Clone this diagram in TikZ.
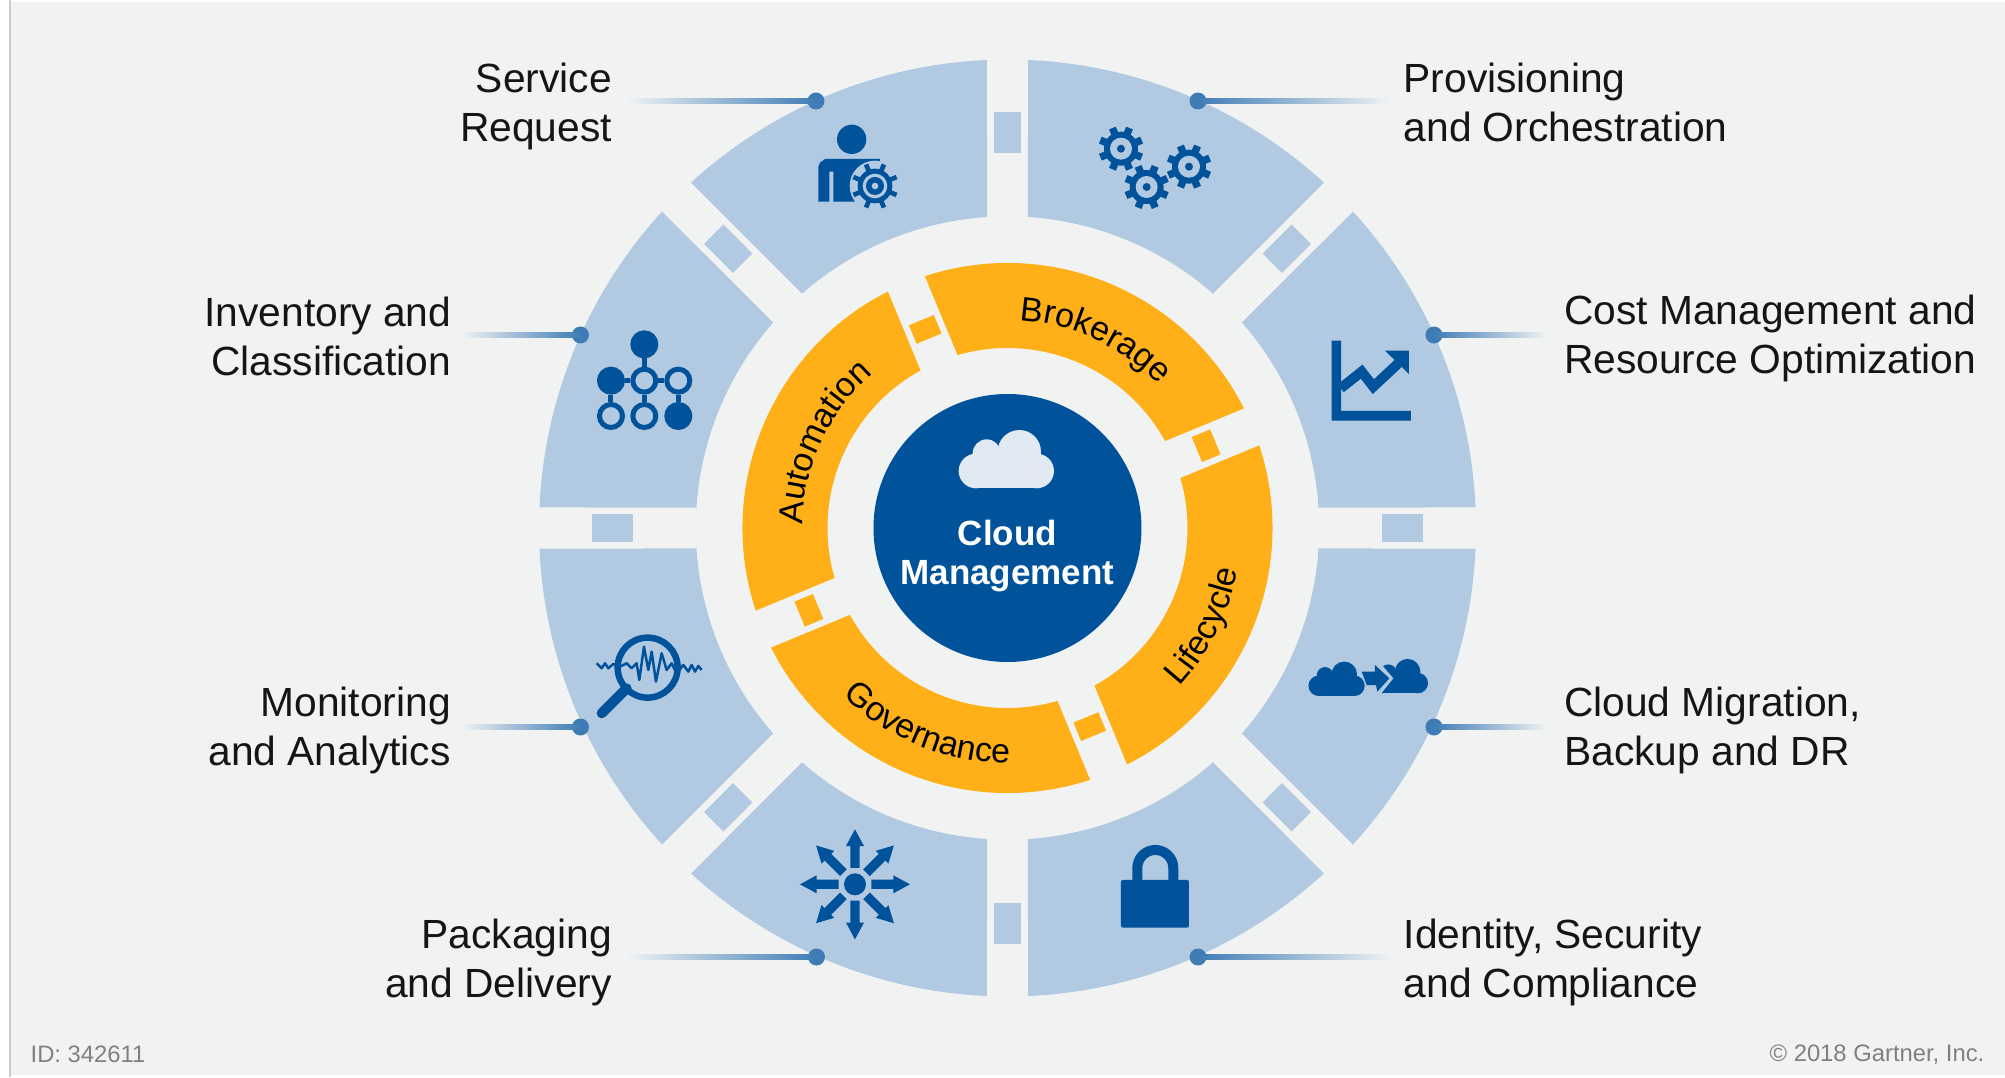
\documentclass[tikz,border=0pt]{standalone}
\usepackage{fontspec}
\setmainfont{Liberation Sans}
\usetikzlibrary{decorations.text}

\definecolor{pagegrey}{HTML}{F1F3F3}
\definecolor{edgegrey}{HTML}{C9CBCB}
\definecolor{paleblue}{HTML}{B1CAE2}
\definecolor{iconblue}{HTML}{00529B}
\definecolor{dotblue}{HTML}{3F7CB5}
\definecolor{ringgold}{HTML}{FFAF17}
\definecolor{cloudwhite}{HTML}{E1EAF3}
\definecolor{inkblack}{HTML}{151515}
\definecolor{notegrey}{HTML}{808080}

\newcommand{\capfont}{\fontsize{40.75}{49}\selectfont}
\newcommand{\ringfont}{\fontsize{34}{34}\selectfont}
\newcommand{\notefont}{\fontsize{23.8}{28}\selectfont}

\tikzset{
  crop/.style 2 args={shift={(#1-1007.5,528-#2)},x=.3333pt,y=-.3333pt},
  segment/.style={fill=paleblue},
  ringseg/.style={fill=ringgold},
  gapbox/.style={fill=paleblue,minimum width=27.5pt,minimum height=41pt,inner sep=0pt},
  ringbox/.style={fill=ringgold,minimum width=27pt,minimum height=20pt,inner sep=0pt},
  dot/.style={circle,fill=dotblue,minimum size=17pt,inner sep=0pt},
  leftfade/.style={left color=pagegrey,right color=dotblue},
  rightfade/.style={left color=dotblue,right color=pagegrey},
  leftcap/.style={font=\capfont,text=inkblack,align=right,anchor=east,inner sep=0pt},
  rightcap/.style={font=\capfont,text=inkblack,align=left,anchor=west,inner sep=0pt},
  netfull/.style={circle,draw=iconblue,fill=iconblue,line width=5pt,minimum size=23pt,inner sep=0pt},
  netopen/.style={circle,draw=iconblue,fill=paleblue,line width=5pt,minimum size=23pt,inner sep=0pt},
  netlink/.style={draw=iconblue,line width=5pt},
  gearicon/.pic={
    \foreach \a in {22.5,67.5,...,337.5} {\fill[iconblue,rotate=\a] (-11,45) rectangle (11,67);}
    \fill[iconblue] (0,0) circle (51);
    \fill[paleblue] (0,0) circle (33);
    \fill[iconblue] (0,0) circle (12);
  },
  cloudshape/.pic={
    \path[pic actions] (-93,-52) circle (52);
    \path[pic actions] (-61,-105) circle (42);
    \path[pic actions] (37,-110) circle (65);
    \path[pic actions] (89,-52) circle (52);
    \path[pic actions] (-93,-60) rectangle (89,0);
    \path[pic actions] (-61,-105) rectangle (37,0);
  },
  fanarrow/.style={fill=iconblue},
}

\begin{document}
\begin{tikzpicture}[x=1pt,y=1pt]

\useasboundingbox (-1007.5,-549) rectangle (997.5,528);
\fill[white] (-1007.5,-549) rectangle (997.5,528);
\fill[pagegrey] (-996.5,-547) rectangle (997.5,526);
\fill[edgegrey] (-998.5,-549) rectangle (-996.5,528);

% outer ring
\fill[segment] (2.51:468.5) arc (2.51:42.49:468.5) -- (41.23:311.7) arc (41.23:3.77:311.7) -- cycle;
\fill[segment] (47.51:468.5) arc (47.51:87.49:468.5) -- (86.23:311.7) arc (86.23:48.77:311.7) -- cycle;
\fill[segment] (92.51:468.5) arc (92.51:132.49:468.5) -- (131.23:311.7) arc (131.23:93.77:311.7) -- cycle;
\fill[segment] (137.51:468.5) arc (137.51:177.49:468.5) -- (176.23:311.7) arc (176.23:138.77:311.7) -- cycle;
\fill[segment] (182.51:468.5) arc (182.51:222.49:468.5) -- (221.23:311.7) arc (221.23:183.77:311.7) -- cycle;
\fill[segment] (227.51:468.5) arc (227.51:267.49:468.5) -- (266.23:311.7) arc (266.23:228.77:311.7) -- cycle;
\fill[segment] (272.51:468.5) arc (272.51:312.49:468.5) -- (311.23:311.7) arc (311.23:273.77:311.7) -- cycle;
\fill[segment] (317.51:468.5) arc (317.51:357.49:468.5) -- (356.23:311.7) arc (356.23:318.77:311.7) -- cycle;

\node [gapbox,rotate=90] (gapE) at (0:395) {};
\node [gapbox,rotate=-45] (gapNE) at (45:395) {};
\node [gapbox] (gapN) at (90:395) {};
\node [gapbox,rotate=45] (gapNW) at (135:395) {};
\node [gapbox,rotate=90] (gapW) at (180:395) {};
\node [gapbox,rotate=-45] (gapSW) at (225:395) {};
\node [gapbox] (gapS) at (270:395) {};
\node [gapbox,rotate=45] (gapSE) at (315:395) {};

% inner ring
\fill[ringseg] (108.17:265) arc (108.17:26.83:265) -- (28.88:180) arc (28.88:106.12:180) -- cycle;
\fill[ringseg] (18.17:265) arc (18.17:-63.17:265) -- (-61.12:180) arc (-61.12:16.12:180) -- cycle;
\fill[ringseg] (-71.83:265) arc (-71.83:-153.17:265) -- (-151.12:180) arc (-151.12:-73.88:180) -- cycle;
\fill[ringseg] (198.17:265) arc (198.17:116.83:265) -- (118.88:180) arc (118.88:196.12:180) -- cycle;

\node [ringbox,rotate=22.5] (boxNW) at (112.5:215) {};
\node [ringbox,rotate=112.5] (boxNE) at (22.5:215) {};
\node [ringbox,rotate=22.5] (boxSE) at (-67.5:215) {};
\node [ringbox,rotate=112.5] (boxSW) at (202.5:215) {};

\path [decorate,decoration={text along path,text align=center,text={|\ringfont|Brokerage}}] (115:208) arc (115:15:208);
\path [decorate,decoration={text along path,text align=center,text={|\ringfont|Automation}}] (205:205) arc (205:105:205);
\path [decorate,decoration={text along path,text align=center,text={|\ringfont|Lifecycle}}] (-76.5:234) arc (-76.5:23.5:234);
\path [decorate,decoration={text along path,text align=center,text={|\ringfont|Governance}}] (198:235) arc (198:298:235);

% hub
\node [circle,fill=iconblue,minimum size=268pt,inner sep=0pt] (hub) at (0,0) {};
\begin{scope}[crop={940}{410}]
\pic [fill=cloudwhite] at (201,235) {cloudshape};
\end{scope}
\node [font=\fontsize{35}{38.5}\selectfont\bfseries,text=white,align=center,inner sep=0pt] (hubtext) at (0,-28) {Cloud\\Management};

% person with gear
\begin{scope}[crop={800}{110}]
\fill[iconblue] (155,88) circle (44);
\fill[iconblue] (55,275) -- (55,170) -- (60,158) -- (75,147) -- (240,147) -- (240,200) -- (165,275) -- (100,275) -- (100,185) -- (88,185) -- (88,275) -- cycle;
\fill[paleblue] (225,228) circle (76);
\begin{scope}[shift={(225,228)}]
\foreach \a in {22.5,67.5,...,337.5} {\fill[iconblue,rotate=\a] (-7,45) rectangle (7,70);}
\fill[iconblue] (0,0) circle (52);
\fill[paleblue] (0,0) circle (37);
\fill[iconblue] (0,0) circle (27);
\fill[paleblue] (0,0) circle (10);
\end{scope}
\end{scope}

% gears
\begin{scope}[crop={1090}{110}]
\pic at (93,116) {gearicon};
\pic at (170,231) {gearicon};
\pic at (297,170) {gearicon};
\end{scope}

% chart
\begin{scope}[crop={1310}{330}]
\fill[iconblue] (65,32) -- (93,32) -- (93,243) -- (303,243) -- (303,272) -- (65,272) -- cycle;
\draw[iconblue,line width=10pt] (92,175) -- (155,125) -- (190,170) -- (265,100);
\fill[iconblue] (225,62) -- (297,62) -- (297,132) -- cycle;
\end{scope}

% clouds with arrow
\begin{scope}[crop={1300}{640}]
\pic [fill=iconblue,scale=.59] at (111,168) {cloudshape};
\pic [fill=iconblue,scale=.59] at (301,160) {cloudshape};
\fill[paleblue] (205,165) -- (240,165) -- (280,115) -- (250,80) -- (205,80) -- cycle;
\fill[iconblue] (185,95) -- (225,95) -- (225,75) -- (268,115) -- (232,155) -- (228,135) -- (200,135) -- cycle;
\end{scope}

% lock
\begin{scope}[crop={1000}{500}]
\draw[iconblue,line width=10pt] (412,1145) -- (412,1104) arc (180:360:54) -- (520,1145);
\fill[iconblue,rounded corners=2pt] (363,1140) rectangle (567,1283);
\end{scope}

% fan of arrows
\begin{scope}[crop={700}{780}]
\fill[iconblue] (465,313) circle (33);
\begin{scope}[shift={(465,313)}]
\foreach \a in {0,45,...,315} {\fill[fanarrow,rotate=\a] (49,-14) -- (115,-14) -- (115,-27) -- (165,0) -- (115,27) -- (115,14) -- (49,14) -- cycle;}
\end{scope}
\end{scope}

% magnifier
\begin{scope}[crop={520}{280}]
\draw[iconblue,line width=6.5pt] (383,1163) circle (90);
\draw[iconblue,line width=10pt,line cap=round] (320,1225) -- (245,1300);
\draw[iconblue,line width=2.5pt,line join=round] (230,1150) -- (245,1165) -- (255,1150) -- (265,1165) -- (280,1152) -- (300,1160) -- (320,1150) -- (335,1165) -- (350,1150) -- (358,1200) -- (372,1100) -- (385,1170) -- (395,1115) -- (408,1205) -- (425,1120) -- (440,1170) -- (455,1150) -- (470,1180) -- (490,1155) -- (505,1175) -- (515,1155) -- (525,1175) -- (535,1158) -- (545,1170);
\end{scope}

% network
\begin{scope}[crop={520}{280}]
\node [netfull] (nettop) at (373,193) {};
\node [netfull] (netwest) at (273,302) {};
\node [netopen] (netmid) at (373,302) {};
\node [netopen] (neteast) at (475,302) {};
\node [netopen] (netsw) at (273,408) {};
\node [netopen] (netsouth) at (373,408) {};
\node [netfull] (netse) at (475,408) {};
\end{scope}
\draw[netlink] (nettop) -- (netmid);
\draw[netlink] (netwest) -- (netmid);
\draw[netlink] (netmid) -- (neteast);
\draw[netlink] (netwest) -- (netsw);
\draw[netlink] (netmid) -- (netsouth);
\draw[netlink] (neteast) -- (netse);

% callouts
\coordinate (fadeRequest) at (-381.5,427);
\coordinate (fadeOrch) at (382.5,427);
\coordinate (fadeClass) at (-547,193);
\coordinate (fadeCost) at (540,193);
\coordinate (fadeMon) at (-547,-199);
\coordinate (fadeDR) at (540,-199);
\coordinate (fadeDel) at (-381.5,-429);
\coordinate (fadeSec) at (385,-429);

\node [dot] (dotRequest) at (-191.5,427) {};
\node [dot] (dotOrch) at (190.5,427) {};
\node [dot] (dotClass) at (-427,193) {};
\node [dot] (dotCost) at (426.5,193) {};
\node [dot] (dotMon) at (-427,-199) {};
\node [dot] (dotDR) at (426.5,-199) {};
\node [dot] (dotDel) at (-191,-429) {};
\node [dot] (dotSec) at (190.5,-429) {};

\shade [leftfade] ([yshift=2.5pt]fadeRequest) rectangle ([yshift=-2.5pt]dotRequest.center);
\shade [rightfade] ([yshift=2.5pt]dotOrch.center) rectangle ([yshift=-2.5pt]fadeOrch);
\shade [leftfade] ([yshift=2.5pt]fadeClass) rectangle ([yshift=-2.5pt]dotClass.center);
\shade [rightfade] ([yshift=2.5pt]dotCost.center) rectangle ([yshift=-2.5pt]fadeCost);
\shade [leftfade] ([yshift=2.5pt]fadeMon) rectangle ([yshift=-2.5pt]dotMon.center);
\shade [rightfade] ([yshift=2.5pt]dotDR.center) rectangle ([yshift=-2.5pt]fadeDR);
\shade [leftfade] ([yshift=2.5pt]fadeDel) rectangle ([yshift=-2.5pt]dotDel.center);
\shade [rightfade] ([yshift=2.5pt]dotSec.center) rectangle ([yshift=-2.5pt]fadeSec);

\node [leftcap] (capRequest) at (-395.5,421.8) {Service\\Request};
\node [rightcap] (capOrch) at (396,425.6) {Provisioning\\and Orchestration};
\node [leftcap] (capClass) at (-556,191.6) {Inventory and\\Classification};
\node [rightcap] (capCost) at (556.5,189.2) {Cost Management and\\Resource Optimization};
\node [leftcap] (capMon) at (-556.5,-202.8) {Monitoring\\and Analytics};
\node [rightcap] (capDR) at (556.5,-202.8) {Cloud Migration,\\Backup and DR};
\node [leftcap] (capDel) at (-395.5,-434.2) {Packaging\\and Delivery};
\node [rightcap] (capSec) at (396,-434.2) {Identity, Security\\and Compliance};

\node [font=\notefont,text=notegrey,anchor=west,inner sep=0pt] (idnote) at (-977,-526.5) {ID: 342611};
\node [font=\notefont,text=notegrey,anchor=east,inner sep=0pt] (copynote) at (977,-526.5) {© 2018 Gartner, Inc.};

\end{tikzpicture}
\end{document}
